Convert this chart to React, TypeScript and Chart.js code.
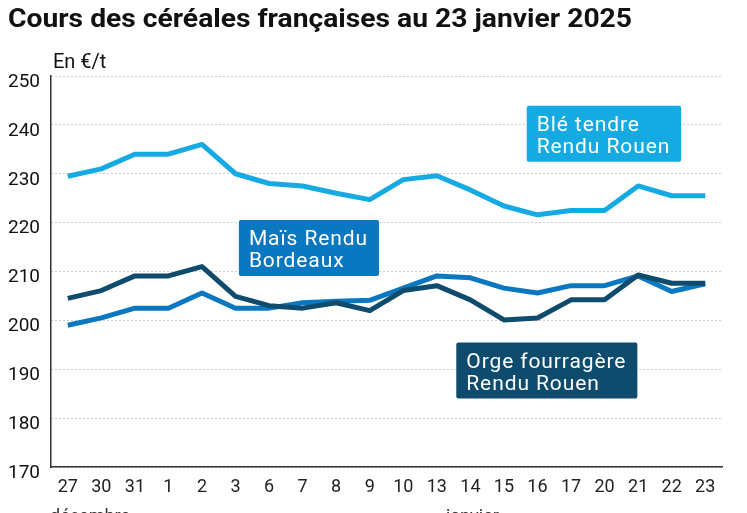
import React, { useEffect, useRef } from "react";
import { Chart, registerables } from "chart.js";

Chart.register(...registerables);

const categories = ["27", "30", "31", "1", "2", "3", "6", "7", "8", "9", "10", "13", "14", "15", "16", "17", "20", "21", "22", "23"];
const ble = [229.5, 231, 234, 234, 236, 230, 228, 227.5, 226, 224.7, 228.8, 229.6, 226.7, 223.4, 221.6, 222.5, 222.5, 227.5, 225.5, 225.5];
const mais = [199, 200.5, 202.5, 202.5, 205.6, 202.5, 202.5, 203.6, 203.9, 204.1, 206.6, 209.1, 208.7, 206.6, 205.6, 207.1, 207.1, 209.1, 205.9, 207.5];
const orge = [204.5, 206.1, 209.1, 209.1, 211, 204.9, 203, 202.5, 203.6, 202, 206.1, 207.1, 204.2, 200.1, 200.5, 204.2, 204.2, 209.3, 207.6, 207.6];
const yTicks = [170, 180, 190, 200, 210, 220, 230, 240, 250];

const TITLE = "Cours des céréales françaises au 23 janvier 2025";
const UNIT = "En €/t";
const months = [
  { text: "décembre", x: 50 },
  { text: "janvier", x: 446 },
];

const COLOR_BLE = "#16aae2";
const COLOR_MAIS = "#0a78c1";
const COLOR_ORGE = "#0e4b6c";

const boxes = [
  { lines: ["Blé tendre", "Rendu Rouen"], color: COLOR_BLE, xIndex: 13.68, yValue: 243.9 },
  { lines: ["Maïs Rendu", "Bordeaux"], color: COLOR_MAIS, xIndex: 5.1, yValue: 220.55 },
  { lines: ["Orge fourragère", "Rendu Rouen"], color: COLOR_ORGE, xIndex: 11.58, yValue: 195.46 },
];

const overlayPlugin = {
  id: "overlay",
  afterDraw(chart: any) {
    const ctx = chart.ctx as CanvasRenderingContext2D;
    const xs = chart.scales.x;
    const ys = chart.scales.y;
    ctx.save();
    // title
    ctx.font = "bold 26px Roboto";
    ctx.fillStyle = "#111";
    ctx.textBaseline = "alphabetic";
    ctx.textAlign = "left";
    const tw = ctx.measureText(TITLE).width;
    const target = 624;
    ctx.save();
    ctx.translate(8, 27);
    ctx.scale(target / tw, 1);
    ctx.fillText(TITLE, 0, 0);
    ctx.restore();
    // unit
    ctx.font = "20px Roboto";
    ctx.fillStyle = "#111";
    ctx.fillText(UNIT, 53, 68);
    // months
    ctx.font = "18px Roboto";
    ctx.fillStyle = "#333";
    months.forEach((m) => ctx.fillText(m.text, m.x, 522));
    // boxes
    const x0 = xs.getPixelForValue(0);
    const x1 = xs.getPixelForValue(1);
    const step = x1 - x0;
    boxes.forEach((b) => {
      const left = x0 + b.xIndex * step;
      const top = ys.getPixelForValue(b.yValue);
      ctx.font = "21px Roboto";
      (ctx as any).letterSpacing = "0.9px";
      const w = Math.max(...b.lines.map((l) => ctx.measureText(l).width)) + 21;
      const h = 56;
      ctx.fillStyle = b.color;
      ctx.beginPath();
      (ctx as any).roundRect(left, top, w, h, 2);
      ctx.fill();
      ctx.fillStyle = "#ffffff";
      ctx.fillText(b.lines[0], left + 10, top + 25);
      ctx.fillText(b.lines[1], left + 10, top + 47);
      (ctx as any).letterSpacing = "0px";
    });
    ctx.restore();
  },
};

export default function App() {
  const ref = useRef<HTMLCanvasElement | null>(null);
  useEffect(() => {
    document.body.style.margin = "0";
    const canvas = ref.current!;
    const lineCommon = {
      borderWidth: 5,
      pointRadius: 0,
      pointHoverRadius: 0,
      tension: 0,
      fill: false,
      borderJoinStyle: "round" as const,
      borderCapStyle: "butt" as const,
    };
    const chart = new Chart(canvas, {
      type: "line",
      data: {
        labels: categories,
        datasets: [
          { label: "Orge fourragère Rendu Rouen", data: orge, borderColor: COLOR_ORGE, backgroundColor: COLOR_ORGE, ...lineCommon },
          { label: "Maïs Rendu Bordeaux", data: mais, borderColor: COLOR_MAIS, backgroundColor: COLOR_MAIS, ...lineCommon },
          { label: "Blé tendre Rendu Rouen", data: ble, borderColor: COLOR_BLE, backgroundColor: COLOR_BLE, ...lineCommon },
        ],
      },
      options: {
        animation: false,
        responsive: false,
        maintainAspectRatio: false,
        devicePixelRatio: 1,
        layout: { padding: { left: 0, right: 25, top: 76, bottom: 0 } },
        plugins: { legend: { display: false }, tooltip: { enabled: false }, title: { display: false } },
        scales: {
          x: {
            offset: true,
            grid: { display: false, drawTicks: false },
            border: { display: true, color: "#333", width: 1.5 },
            ticks: { color: "#222", font: { family: "Roboto", size: 18 }, padding: 10, maxRotation: 0, autoSkip: false },
            afterFit: (s: any) => { s.height = 46; },
          },
          y: {
            min: 170,
            max: 250,
            afterBuildTicks: (s: any) => { s.ticks = yTicks.map((v) => ({ value: v })); },
            grid: { display: true, drawTicks: false, color: "#9a9a9a", lineWidth: 1 },
            border: { display: true, color: "#333", width: 1.5, dash: [1, 3] },
            ticks: { color: "#111", font: { family: "Roboto", size: 19 }, padding: 11, labelOffset: 6 },
            afterFit: (s: any) => { s.width = 51; },
          },
        },
      },
      plugins: [overlayPlugin],
    });
    return () => chart.destroy();
  }, []);
  return (
    <div style={{ position: "relative", width: 747, height: 513 }}>
      <canvas ref={ref} width={747} height={513} style={{ width: 747, height: 513, display: "block" }} />
    </div>
  );
}
